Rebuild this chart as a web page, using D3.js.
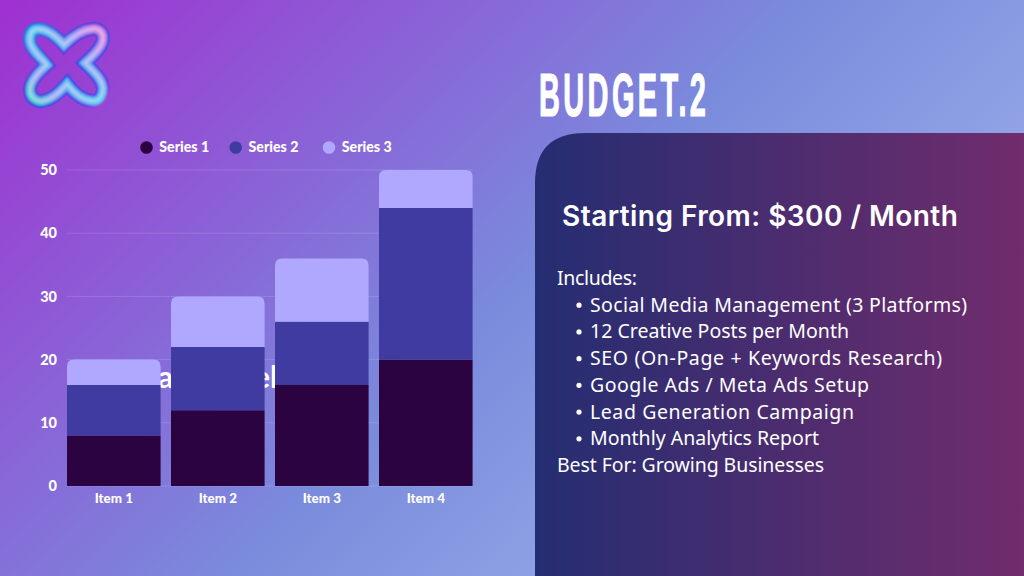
<!DOCTYPE html>
<html>
<head>
<meta charset="utf-8">
<script src="https://cdn.jsdelivr.net/npm/d3@7"></script>
<style>
  html, body { margin: 0; padding: 0; background: #7a8fdc; }
  svg { display: block; }
  .axis text { font-family: Lato, sans-serif; font-weight: 900; fill: #fff; }
  .axis .domain, .axis .tick line { display: none; }
  .list-line { font-family: "Noto Sans", sans-serif; font-size: 19.5px; fill: #fff; }
</style>
</head>
<body>
<svg id="chart" width="1024" height="576"></svg>
<script>
// Chart data
const items = ['Item 1', 'Item 2', 'Item 3', 'Item 4'];
const seriesNames = ['Series 1', 'Series 2', 'Series 3'];
const series1 = [8, 12, 16, 20];
const series2 = [8, 10, 10, 24];
const series3 = [4, 8, 10, 6];
const yTicks = [0, 10, 20, 30, 40, 50];
const seriesColors = ['#2b0340', '#403ba0', '#b0a8ff'];

// Slide text
const titleText = 'BUDGET.2';
const priceText = 'Starting From: $300 / Month';
const listLines = ['Includes:', 'Best For: Growing Businesses'];
const bullets = [
  'Social Media Management (3 Platforms)',
  '12 Creative Posts per Month',
  'SEO (On-Page + Keywords Research)',
  'Google Ads / Meta Ads Setup',
  'Lead Generation Campaign',
  'Monthly Analytics Report'
];

// Measured line widths, the slide font is not installed here
const listWidths = [80, 267];
const bulletWidths = [377, 259, 352, 279, 264, 229];

const svg = d3.select('#chart');
const defs = svg.append('defs');

function addGradient(id, x1, y1, x2, y2, stops) {
  const g = defs.append('linearGradient').attr('id', id)
    .attr('gradientUnits', 'userSpaceOnUse')
    .attr('x1', x1).attr('y1', y1).attr('x2', x2).attr('y2', y2);
  stops.forEach(s => g.append('stop').attr('offset', s[0]).attr('stop-color', s[1]));
}

addGradient('bg', 110, -130, 930, 700, [[0, '#a02dd0'], [0.5, '#7a8bdc'], [1, '#b0c4f2']]);
addGradient('panel', 535, 300, 1024, 300, [[0, '#252d72'], [1, '#702c6c']]);
addGradient('tubeOuter', 25, 25, 110, 108, [[0, '#2f6fe0'], [0.4, '#5a3fe0'], [0.6, '#3a4fe8'], [0.85, '#6a3ae0'], [1, '#e038c8']]);
addGradient('tubeMid', 25, 105, 108, 25, [[0, '#30e8c0'], [0.25, '#8aa0f0'], [0.5, '#50d0ee'], [0.75, '#a890f0'], [1, '#f078d0']]);

// Background
svg.append('rect').attr('width', 1024).attr('height', 576).attr('fill', 'url(#bg)');

// Logo
const logoPath = 'M64 45 C56 36 47 29 38 29 C31 29 29 36 30 42 C32 52 42 58 47 65 C40 71 30 80 30 90 ' +
  'C30 98 37 102 43 101 C53 99 60 92 67 84 C73 92 82 100 92 101 C99 102 103 96 103 88 ' +
  'C102 78 92 70 85 63 C91 57 103 48 103 38 C103 31 97 28 92 29 C81 30 72 37 64 45 Z';
defs.append('filter').attr('id', 'soft').append('feGaussianBlur').attr('stdDeviation', 0.9);
const logo = svg.append('g').attr('fill', 'none');
logo.append('path').attr('d', logoPath).attr('stroke', 'url(#tubeOuter)').attr('stroke-width', 14);
logo.append('path').attr('d', logoPath).attr('stroke', 'url(#tubeMid)').attr('stroke-width', 9).attr('filter', 'url(#soft)');
logo.append('path').attr('d', logoPath).attr('stroke', '#e4dcff').attr('stroke-opacity', 0.55).attr('stroke-width', 3).attr('filter', 'url(#soft)');

// Scales
const x = d3.scaleBand().domain(items).range([56.6, 483]).padding(0.1);
const y = d3.scaleLinear().domain([0, 50]).range([486, 170]);

// Gridlines
svg.append('g').selectAll('line').data(yTicks).join('line')
  .attr('x1', x(items[0])).attr('x2', x(items[3]) + x.bandwidth())
  .attr('y1', d => y(d)).attr('y2', d => y(d))
  .attr('stroke', '#fff').attr('stroke-opacity', 0.14);

// Text that sits behind the bars on the slide
svg.append('g').attr('font-family', 'Lato, sans-serif').attr('font-weight', 700).attr('font-size', 30).attr('fill', '#fff')
  .selectAll('text').data([['a', 158], ['el', 254]]).join('text')
  .attr('x', d => d[1]).attr('y', 388).text(d => d[0]);

// Stacked bars
const rows = items.map((item, i) => ({ item, s0: series1[i], s1: series2[i], s2: series3[i] }));
const stacked = d3.stack().keys(['s0', 's1', 's2'])(rows);
const radius = 7;

svg.append('g').selectAll('g').data(stacked).join('g')
  .attr('fill', (d, i) => seriesColors[i])
  .selectAll('path').data(d => d.map(v => ({ v, top: d.index === 2 }))).join('path')
  .attr('d', d => {
    const x0 = x(d.v.data.item), w = x.bandwidth();
    const yTop = y(d.v[1]), yBot = y(d.v[0]);
    const r = d.top ? radius : 0;
    return `M${x0},${yBot}V${yTop + r}Q${x0},${yTop} ${x0 + r},${yTop}H${x0 + w - r}Q${x0 + w},${yTop} ${x0 + w},${yTop + r}V${yBot}Z`;
  });

// Axes
svg.append('g').attr('class', 'axis').attr('transform', 'translate(62,0)')
  .call(d3.axisLeft(y).tickValues(yTicks).tickSize(0).tickPadding(5))
  .selectAll('text').style('font-size', '14.5px');
svg.append('g').attr('class', 'axis').attr('transform', 'translate(0,486)')
  .call(d3.axisBottom(x).tickSize(0).tickPadding(7))
  .selectAll('text').style('font-size', '13.4px');

// Legend
const legendX = [146.5, 235.7, 329];
const legend = svg.append('g').selectAll('g').data(seriesNames).join('g')
  .attr('transform', (d, i) => `translate(${legendX[i]},147.5)`);
legend.append('circle').attr('r', 6.3).attr('fill', (d, i) => seriesColors[i]);
legend.append('text').attr('x', 12.8).attr('y', 4.7).text(d => d)
  .attr('font-family', 'Lato, sans-serif').attr('font-weight', 900).attr('font-size', 14.2).attr('fill', '#fff');

// Title, squeezed sideways to get the tall condensed look
svg.append('text').attr('transform', 'translate(539,116) scale(0.5,1.04)').text(titleText)
  .attr('font-family', '"Liberation Sans", sans-serif').attr('font-weight', 700)
  .attr('font-size', 58).attr('fill', '#fff')
  .attr('stroke', '#fff').attr('stroke-width', 1.2)
  .attr('textLength', 334).attr('lengthAdjust', 'spacing');

// Right panel
svg.append('path')
  .attr('d', 'M535,576V183Q535,133 585,133H1024V576Z')
  .attr('fill', 'url(#panel)');

svg.append('text').attr('x', 562).attr('y', 226).text(priceText)
  .attr('font-family', 'Inter, sans-serif').attr('font-weight', 600)
  .attr('font-size', 28).attr('letter-spacing', 0.45).attr('fill', '#fff');

// List text
const lineY = d3.scaleLinear().domain([0, 7]).range([285, 472]);
svg.append('text').attr('class', 'list-line').attr('x', 557).attr('y', lineY(0))
  .attr('textLength', listWidths[0]).text(listLines[0]);
svg.append('text').attr('class', 'list-line').attr('x', 557).attr('y', lineY(7))
  .attr('textLength', listWidths[1]).text(listLines[1]);
svg.selectAll('.bullet').data(bullets).join('text')
  .attr('class', 'list-line bullet').attr('x', 590).attr('y', (d, i) => lineY(i + 1))
  .attr('textLength', (d, i) => bulletWidths[i]).text(d => d);
svg.selectAll('.dot').data(bullets).join('circle')
  .attr('class', 'dot').attr('cx', 579).attr('cy', (d, i) => lineY(i + 1) - 6.5).attr('r', 2.6).attr('fill', '#fff');
</script>
</body>
</html>
